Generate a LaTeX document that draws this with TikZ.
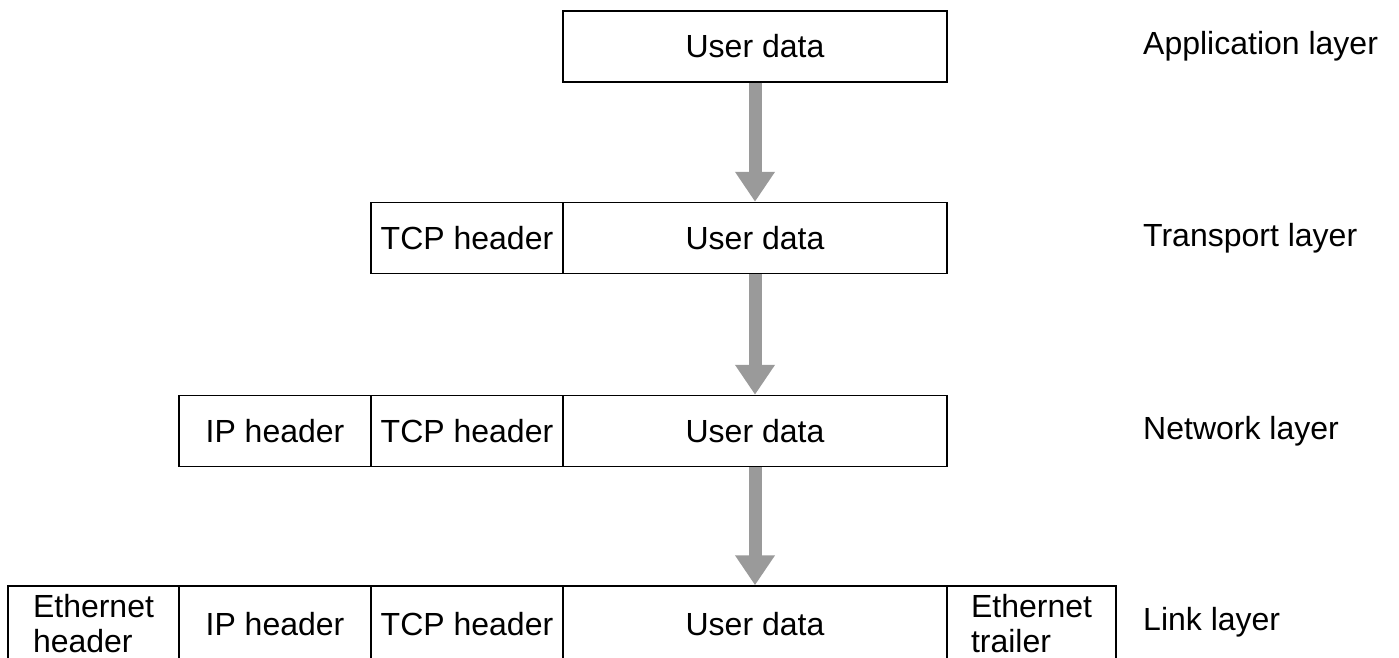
\documentclass[tikz,border=0pt]{standalone}
\usepackage{fontspec}
\setmainfont{Liberation Sans}
\usetikzlibrary{arrows.meta}
\definecolor{arrowgray}{HTML}{9A9A9A}
\tikzset{
  cell/.style={draw=black, line width=1.5pt, inner sep=0pt, minimum height=71pt, align=left,
    font=\fontsize{32}{35}\selectfont},
  linkcell/.style={cell, minimum height=76pt},
  layerlabel/.style={anchor=west, inner sep=0pt, font=\fontsize{32}{35}\selectfont},
  flow/.style={draw=arrowgray, line width=13pt, -{Triangle[width=38pt,length=30pt]}}
}
\begin{document}
\begin{tikzpicture}[x=1pt,y=-1pt]
\useasboundingbox (0,0) rectangle (1399,658);
\clip (0,0) rectangle (1399,658);
% Application
\node[cell, minimum width=384pt] (a-ud) at (755,46.5) {User data};
% Transport
\node[cell, minimum width=192pt] (t-tcp) at (467,238) {TCP header};
\node[cell, minimum width=384pt] (t-ud) at (755,238) {User data};
% Network
\node[cell, minimum width=192pt] (n-ip) at (275,431) {IP header};
\node[cell, minimum width=192pt] (n-tcp) at (467,431) {TCP header};
\node[cell, minimum width=384pt] (n-ud) at (755,431) {User data};
% Link (bottom edge lies just outside the picture)
\node[linkcell, minimum width=171pt] (l-eh) at (93.5,624) {Ethernet\\header};
\node[linkcell, minimum width=192pt] (l-ip) at (275,624) {IP header};
\node[linkcell, minimum width=192pt] (l-tcp) at (467,624) {TCP header};
\node[linkcell, minimum width=384pt] (l-ud) at (755,624) {User data};
\node[linkcell, minimum width=169pt] (l-et) at (1031.5,624) {Ethernet\\trailer};
% Labels
\node[layerlabel] (lab-a) at (1143,46.5) {Application layer};
\node[layerlabel] (lab-t) at (1143,238) {Transport layer};
\node[layerlabel] (lab-n) at (1143,431) {Network layer};
\node[layerlabel] (lab-l) at (1143,622) {Link layer};
% Arrows
\draw[flow] (a-ud.south) -- (t-ud.north);
\draw[flow] (t-ud.south) -- (n-ud.north);
\draw[flow] (n-ud.south) -- (l-ud.north);
\end{tikzpicture}
\end{document}
